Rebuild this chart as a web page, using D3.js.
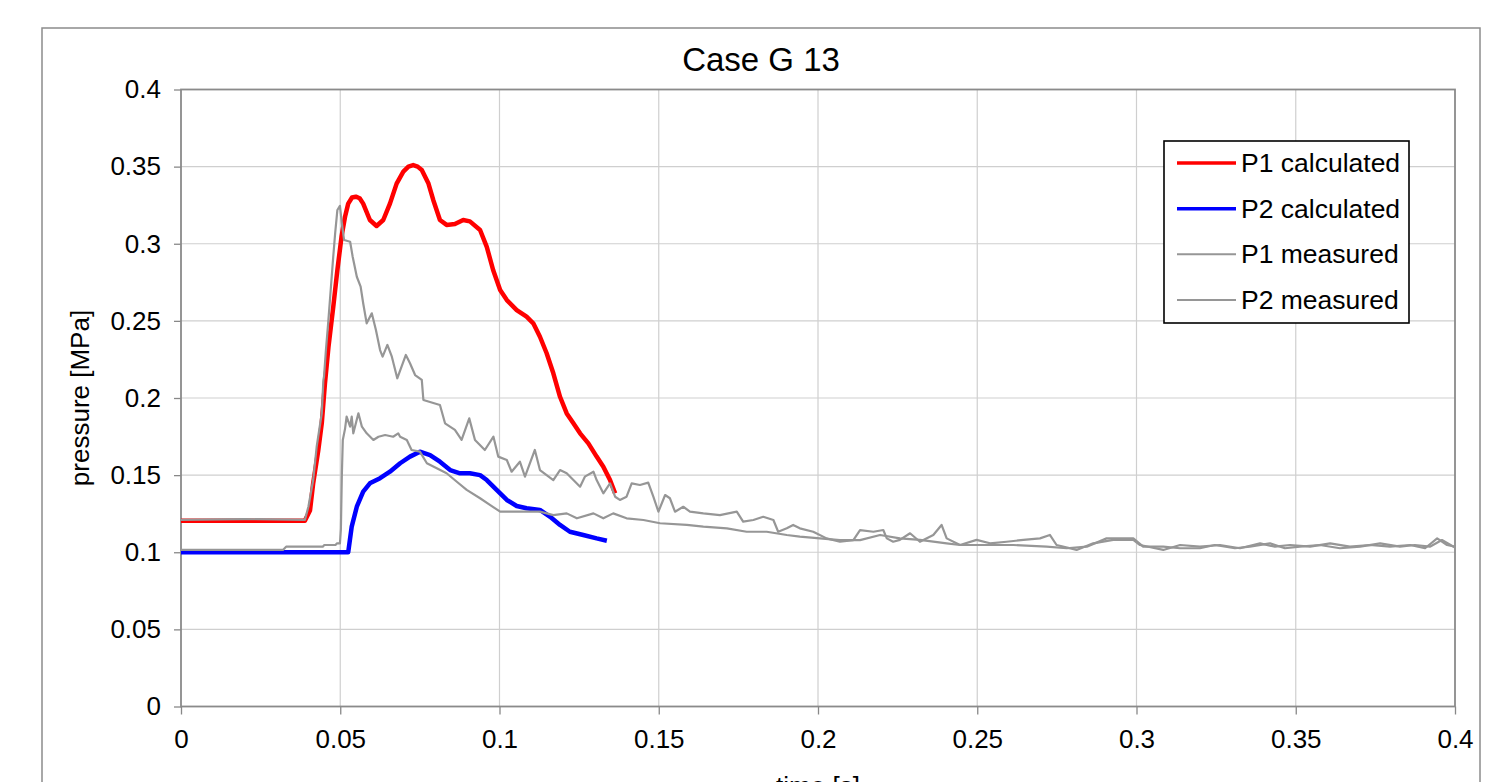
<!DOCTYPE html>
<html>
<head>
<meta charset="utf-8">
<script src="https://cdn.jsdelivr.net/npm/d3@7"></script>
<style>
  html, body { margin: 0; padding: 0; background: #fff; }
  svg { display: block; font-family: "Liberation Sans", Arial, sans-serif; }
</style>
</head>
<body>
<svg id="chart" width="1494" height="782"></svg>
<script>
// Pressure histories, time in s, pressure in MPa
const p1Calculated = [
  [0, 0.1205], [0.0389, 0.1205], [0.0405, 0.127], [0.0415, 0.1447], [0.0431, 0.166],
  [0.0442, 0.1836], [0.0452, 0.2095], [0.0463, 0.233], [0.0478, 0.259], [0.0491, 0.283],
  [0.0504, 0.3046], [0.0515, 0.3175], [0.0525, 0.326], [0.0537, 0.330], [0.0549, 0.3305],
  [0.0561, 0.3295], [0.0572, 0.326], [0.0593, 0.3154], [0.0614, 0.3115], [0.0635, 0.3154],
  [0.0656, 0.326], [0.0677, 0.339], [0.0698, 0.3467], [0.0714, 0.350], [0.0729, 0.351],
  [0.0743, 0.350], [0.0756, 0.3478], [0.0777, 0.339], [0.0792, 0.3284], [0.0813, 0.3154],
  [0.0834, 0.3122], [0.086, 0.3128], [0.0886, 0.3154], [0.0907, 0.3145], [0.0939, 0.3089],
  [0.096, 0.298], [0.098, 0.283], [0.1002, 0.27], [0.1023, 0.2635], [0.1054, 0.257],
  [0.1085, 0.2527], [0.1106, 0.2484], [0.1127, 0.2397], [0.1148, 0.229], [0.1169, 0.216],
  [0.119, 0.2008], [0.1211, 0.19], [0.1232, 0.1836], [0.1253, 0.1771], [0.1279, 0.1706],
  [0.1305, 0.162], [0.1326, 0.1555], [0.1347, 0.1468], [0.1363, 0.1382]
];

const p2Calculated = [
  [0, 0.1], [0.0525, 0.1], [0.0536, 0.1166], [0.0552, 0.1295], [0.0572, 0.1393],
  [0.0593, 0.1447], [0.0625, 0.148], [0.0656, 0.1522], [0.0688, 0.1577], [0.0719, 0.162],
  [0.075, 0.1652], [0.0782, 0.163], [0.0813, 0.1587], [0.0845, 0.1533], [0.0876, 0.1512],
  [0.0907, 0.1512], [0.0939, 0.15], [0.096, 0.1468], [0.0991, 0.1404], [0.1023, 0.1339],
  [0.1054, 0.13], [0.1085, 0.1285], [0.1127, 0.1274], [0.1159, 0.123], [0.119, 0.1177],
  [0.1221, 0.1133], [0.1263, 0.1112], [0.1305, 0.109], [0.1337, 0.1075]
];

const p1Measured = [
  [0, 0.121], [0.02, 0.1215], [0.0389, 0.121], [0.040, 0.1295], [0.0415, 0.1468],
  [0.0426, 0.1684], [0.0442, 0.1901], [0.0447, 0.2115], [0.0449, 0.2138], [0.0455, 0.2311],
  [0.0462, 0.2484], [0.0470, 0.27], [0.0478, 0.2916], [0.0484, 0.3068], [0.0491, 0.3219],
  [0.0499, 0.3245], [0.0505, 0.3133], [0.0512, 0.3024], [0.0531, 0.3013], [0.0539, 0.2916],
  [0.0552, 0.2786], [0.0564, 0.2722], [0.0572, 0.2614], [0.0583, 0.2484], [0.0599, 0.2549],
  [0.0612, 0.2441], [0.0625, 0.2311], [0.0633, 0.2268], [0.0648, 0.2344], [0.0662, 0.2268],
  [0.0679, 0.2128], [0.0706, 0.2279], [0.0719, 0.2225], [0.0735, 0.2149], [0.0756, 0.2117],
  [0.0761, 0.1987], [0.0813, 0.1955], [0.0829, 0.1836], [0.086, 0.1793], [0.0881, 0.1728],
  [0.0905, 0.1868], [0.0923, 0.1728], [0.0954, 0.1663], [0.0981, 0.1749], [0.0996, 0.162],
  [0.1023, 0.1598], [0.1038, 0.1522], [0.1064, 0.1587], [0.108, 0.149], [0.1111, 0.1663],
  [0.1127, 0.1533], [0.1169, 0.1468], [0.119, 0.1533], [0.1211, 0.1512], [0.1232, 0.1468],
  [0.1253, 0.1425], [0.1268, 0.149], [0.1295, 0.1522], [0.1305, 0.1468], [0.1326, 0.1382],
  [0.1347, 0.1447], [0.1363, 0.136], [0.1378, 0.1339], [0.1399, 0.136], [0.1415, 0.1447],
  [0.1441, 0.1436], [0.1467, 0.1451], [0.1483, 0.136], [0.1499, 0.1263], [0.152, 0.1371],
  [0.1535, 0.135], [0.1551, 0.1263], [0.1577, 0.1295], [0.1598, 0.1263], [0.164, 0.1252],
  [0.1692, 0.1241], [0.1745, 0.1263], [0.1765, 0.1198], [0.1797, 0.1209], [0.1828, 0.123],
  [0.186, 0.1209], [0.1875, 0.1133], [0.1902, 0.1155], [0.1922, 0.1177], [0.1943, 0.1155],
  [0.1985, 0.1133], [0.2027, 0.109], [0.2069, 0.1068], [0.2111, 0.1079], [0.2132, 0.1144],
  [0.2174, 0.1133], [0.2205, 0.1144], [0.2216, 0.109], [0.2236, 0.1068], [0.2257, 0.108],
  [0.2289, 0.1123], [0.232, 0.1068], [0.2362, 0.1112], [0.2388, 0.1177], [0.2404, 0.109],
  [0.2446, 0.1047], [0.2498, 0.108], [0.254, 0.1058], [0.2592, 0.1068], [0.2645, 0.108],
  [0.2697, 0.109], [0.2728, 0.1112], [0.2749, 0.1047], [0.2812, 0.1015], [0.2864, 0.1058],
  [0.2927, 0.108], [0.299, 0.108], [0.3011, 0.1047], [0.3084, 0.1015], [0.3137, 0.1047],
  [0.3199, 0.1036], [0.3262, 0.1047], [0.3325, 0.1026], [0.3388, 0.1058], [0.3435, 0.1036],
  [0.3482, 0.1047], [0.3545, 0.1036], [0.3608, 0.1058], [0.367, 0.1036], [0.3733, 0.1047],
  [0.3796, 0.1036], [0.3859, 0.1047], [0.3906, 0.1026], [0.3944, 0.109], [0.3975, 0.1047],
  [0.4, 0.1036]
];

const p2Measured = [
  [0, 0.1015], [0.032, 0.1015], [0.033, 0.1036], [0.0445, 0.1036], [0.045, 0.1047],
  [0.0485, 0.1047], [0.049, 0.1058], [0.0499, 0.1058], [0.0502, 0.115], [0.0505, 0.15],
  [0.0508, 0.1728], [0.0515, 0.18], [0.052, 0.1879], [0.0531, 0.1814], [0.0536, 0.1879],
  [0.0541, 0.1771], [0.0557, 0.1901], [0.0568, 0.1814], [0.0583, 0.1771], [0.0604, 0.1728],
  [0.062, 0.1749], [0.0641, 0.176], [0.0666, 0.1749], [0.0682, 0.1771], [0.0688, 0.1749],
  [0.0709, 0.1728], [0.0724, 0.1663], [0.075, 0.1652], [0.0772, 0.1577], [0.0803, 0.1544],
  [0.0834, 0.1512], [0.0866, 0.1457], [0.0897, 0.1404], [0.0939, 0.135], [0.0971, 0.1306],
  [0.1002, 0.1263], [0.1044, 0.1263], [0.1085, 0.1263], [0.1127, 0.1263], [0.1169, 0.1241],
  [0.1211, 0.1252], [0.1243, 0.122], [0.1295, 0.1252], [0.1326, 0.122], [0.1357, 0.1252],
  [0.1399, 0.122], [0.1452, 0.1209], [0.1504, 0.1188], [0.1588, 0.1177], [0.164, 0.1166],
  [0.1714, 0.1155], [0.1776, 0.1133], [0.1839, 0.1133], [0.1902, 0.1112], [0.1943, 0.1101],
  [0.2006, 0.109], [0.2069, 0.1079], [0.2132, 0.1079], [0.2195, 0.1112], [0.2257, 0.109],
  [0.232, 0.108], [0.2404, 0.1058], [0.2446, 0.1047], [0.2509, 0.1047], [0.2613, 0.1047],
  [0.2718, 0.1036], [0.2781, 0.1026], [0.2844, 0.1036], [0.2906, 0.109], [0.299, 0.109],
  [0.3021, 0.1036], [0.3084, 0.1036], [0.3137, 0.1026], [0.3199, 0.1026], [0.3246, 0.1047],
  [0.3309, 0.1026], [0.3356, 0.1036], [0.3419, 0.1058], [0.3466, 0.1026], [0.3513, 0.1036],
  [0.3576, 0.1047], [0.3639, 0.1026], [0.3702, 0.1036], [0.3765, 0.1058], [0.3827, 0.1036],
  [0.3874, 0.1047], [0.3921, 0.1036], [0.3959, 0.1079], [0.4, 0.103]
];

const xTicks = [0, 0.05, 0.1, 0.15, 0.2, 0.25, 0.3, 0.35, 0.4];
const yTicks = [0, 0.05, 0.1, 0.15, 0.2, 0.25, 0.3, 0.35, 0.4];

const seriesNames = ["P1 calculated", "P2 calculated", "P1 measured", "P2 measured"];
const seriesColors = ["#ff0000", "#0000ff", "#969696", "#969696"];
const seriesWidths = [4.5, 4.5, 2.2, 2.2];
const seriesData = [p1Calculated, p2Calculated, p1Measured, p2Measured];

const titleText = "Case G 13";
const xLabel = "time [s]";
const yLabel = "pressure [MPa]";

// ---- layout ----
const svg = d3.select("#chart");
const plot = { left: 181, right: 1455, top: 89.5, bottom: 706.5 };

svg.append("rect").attr("width", 1494).attr("height", 782).attr("fill", "#fff");

// outer chart frame
svg.append("rect")
  .attr("x", 42).attr("y", 28).attr("width", 1438).attr("height", 820)
  .attr("fill", "none").attr("stroke", "#8c8c8c").attr("stroke-width", 1.5);

const x = d3.scaleLinear().domain([0, 0.4]).range([plot.left, plot.right]);
const y = d3.scaleLinear().domain([0, 0.4]).range([plot.bottom, plot.top]);

// gridlines
const grid = svg.append("g");
grid.selectAll("line.v").data(xTicks.slice(1, -1)).join("line")
  .attr("x1", d => x(d)).attr("x2", d => x(d))
  .attr("y1", plot.top).attr("y2", plot.bottom)
  .attr("stroke", "#cfcfcf").attr("stroke-width", 1.2);
grid.selectAll("line.h").data(yTicks.slice(1, -1)).join("line")
  .attr("x1", plot.left).attr("x2", plot.right)
  .attr("y1", d => y(d)).attr("y2", d => y(d))
  .attr("stroke", "#cfcfcf").attr("stroke-width", 1.2);

// axes
const fmt = d => String(+d.toFixed(2));
const xAxis = svg.append("g")
  .attr("transform", `translate(0,${plot.bottom})`)
  .call(d3.axisBottom(x).tickValues(xTicks).tickFormat(fmt).tickSize(8).tickPadding(27));
const yAxis = svg.append("g")
  .attr("transform", `translate(${plot.left},0)`)
  .call(d3.axisLeft(y).tickValues(yTicks).tickFormat(fmt).tickSize(7).tickPadding(13));

[xAxis, yAxis].forEach(ax => {
  ax.select(".domain").remove();
  ax.selectAll(".tick line").attr("stroke", "#888").attr("stroke-width", 1.3);
  ax.selectAll(".tick text").attr("fill", "#000")
    .style("font-family", "'Liberation Sans', Arial, sans-serif")
    .style("font-size", "26px");
});
xAxis.selectAll(".tick text").attr("dy", "0").attr("dominant-baseline", "middle");

// plot-area frame
svg.append("rect")
  .attr("x", plot.left).attr("y", plot.top)
  .attr("width", plot.right - plot.left).attr("height", plot.bottom - plot.top)
  .attr("fill", "none").attr("stroke", "#8a8a8a").attr("stroke-width", 1.8);

// series
const line = d3.line().x(d => x(d[0])).y(d => y(d[1]));
const clipId = "plotClip";
svg.append("clipPath").attr("id", clipId).append("rect")
  .attr("x", plot.left).attr("y", plot.top)
  .attr("width", plot.right - plot.left).attr("height", plot.bottom - plot.top);

svg.append("g").attr("clip-path", `url(#${clipId})`)
  .selectAll("path").data(seriesData).join("path")
  .attr("d", line)
  .attr("fill", "none")
  .attr("stroke", (d, i) => seriesColors[i])
  .attr("stroke-width", (d, i) => seriesWidths[i])
  .attr("stroke-linejoin", "round")
  .attr("stroke-linecap", "butt");

// title
svg.append("text")
  .attr("x", 761).attr("y", 71)
  .attr("text-anchor", "middle")
  .style("font-size", "33px").attr("fill", "#000")
  .text(titleText);

// axis titles
svg.append("text")
  .attr("transform", `translate(89,${(plot.top + plot.bottom) / 2}) rotate(-90)`)
  .attr("text-anchor", "middle")
  .style("font-size", "26px").attr("fill", "#000")
  .text(yLabel);

svg.append("text")
  .attr("x", (plot.left + plot.right) / 2).attr("y", 795)
  .attr("text-anchor", "middle")
  .style("font-size", "26px").attr("fill", "#000")
  .text(xLabel);

// legend
const legend = svg.append("g");
legend.append("rect")
  .attr("x", 1164).attr("y", 141).attr("width", 245).attr("height", 182)
  .attr("fill", "#fff").attr("stroke", "#000").attr("stroke-width", 1.6);
const rowY = d3.scalePoint().domain(seriesNames).range([163, 300]);
const rows = legend.selectAll("g.row").data(seriesNames).join("g")
  .attr("transform", d => `translate(0,${rowY(d)})`);
rows.append("line")
  .attr("x1", 1177).attr("x2", 1236)
  .attr("stroke", (d, i) => seriesColors[i])
  .attr("stroke-width", (d, i) => i < 2 ? 3.5 : 2);
rows.append("text")
  .attr("x", 1241).attr("dominant-baseline", "central")
  .style("font-size", "26.5px").attr("fill", "#000")
  .text(d => d);
</script>
</body>
</html>
